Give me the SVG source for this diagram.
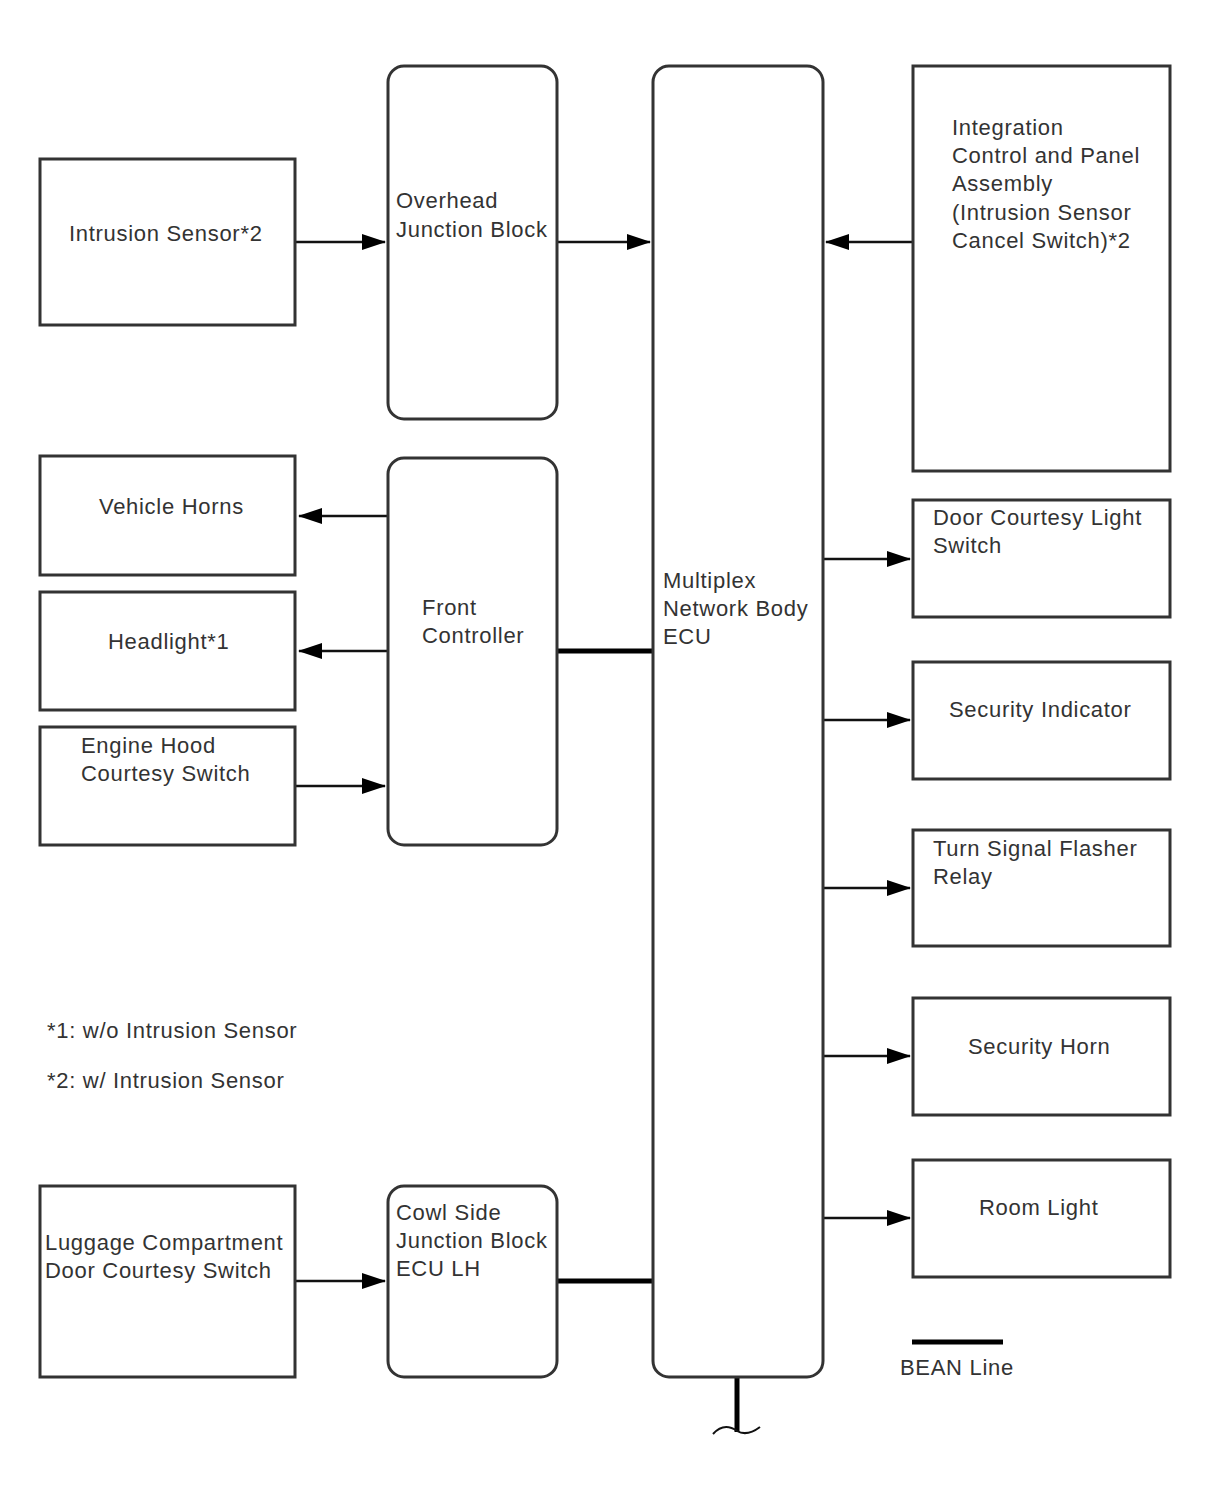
<svg xmlns="http://www.w3.org/2000/svg" width="1210" height="1498" viewBox="0 0 1210 1498">
<style>
.b{fill:#fff;stroke:#333;stroke-width:3}
.t{font-family:"Liberation Sans",Arial,sans-serif;font-size:22px;letter-spacing:0.7px;fill:#333}
.c{stroke:#111;stroke-width:2.5;fill:none}
.bean{stroke:#000;stroke-width:5;fill:none}
</style>
<defs>
<marker id="ah" markerWidth="24" markerHeight="16" refX="23" refY="8" orient="auto" markerUnits="userSpaceOnUse" viewBox="0 0 24 16">
<path d="M0,0 L24,8 L0,16 Z" fill="#000"/>
</marker>
</defs>
<rect width="1210" height="1498" fill="#fff"/>
<g id="connectors">
<line class="c" x1="295" y1="242" x2="385" y2="242" marker-end="url(#ah)"/>
<line class="c" x1="557" y1="242" x2="650" y2="242" marker-end="url(#ah)"/>
<line class="c" x1="913" y1="242" x2="826" y2="242" marker-end="url(#ah)"/>
<line class="c" x1="388" y1="516" x2="299" y2="516" marker-end="url(#ah)"/>
<line class="c" x1="388" y1="651" x2="299" y2="651" marker-end="url(#ah)"/>
<line class="c" x1="295" y1="786" x2="385" y2="786" marker-end="url(#ah)"/>
<line class="bean" x1="557" y1="651" x2="653" y2="651"/>
<line class="c" x1="823" y1="559" x2="910" y2="559" marker-end="url(#ah)"/>
<line class="c" x1="823" y1="720" x2="910" y2="720" marker-end="url(#ah)"/>
<line class="c" x1="823" y1="888" x2="910" y2="888" marker-end="url(#ah)"/>
<line class="c" x1="823" y1="1056" x2="910" y2="1056" marker-end="url(#ah)"/>
<line class="c" x1="823" y1="1218" x2="910" y2="1218" marker-end="url(#ah)"/>
<line class="c" x1="295" y1="1281" x2="385" y2="1281" marker-end="url(#ah)"/>
<line class="bean" x1="557" y1="1281" x2="653" y2="1281"/>
<line class="bean" x1="737" y1="1377" x2="737" y2="1432"/>
<path d="M713,1434 C722,1424 730,1426 737,1431 C744,1435 752,1433 760,1427" fill="none" stroke="#111" stroke-width="2"/>
</g>
<g id="intrusion-sensor"><rect class="b" x="40" y="159" width="255" height="166"/><text class="t" x="69" y="241">Intrusion Sensor*2</text></g>
<g id="overhead-jb"><rect class="b" x="388" y="66" width="169" height="353" rx="16"/><text class="t" x="396" y="208">Overhead</text><text class="t" x="396" y="237">Junction Block</text></g>
<g id="multiplex-ecu"><rect class="b" x="653" y="66" width="170" height="1311" rx="16"/><text class="t" x="663" y="588">Multiplex</text><text class="t" x="663" y="616">Network Body</text><text class="t" x="663" y="644">ECU</text></g>
<g id="integration-panel"><rect class="b" x="913" y="66" width="257" height="405"/><text class="t" x="952" y="135">Integration</text><text class="t" x="952" y="163">Control and Panel</text><text class="t" x="952" y="191">Assembly</text><text class="t" x="952" y="220">(Intrusion Sensor</text><text class="t" x="952" y="248">Cancel Switch)*2</text></g>
<g id="vehicle-horns"><rect class="b" x="40" y="456" width="255" height="119"/><text class="t" x="99" y="514">Vehicle Horns</text></g>
<g id="headlight"><rect class="b" x="40" y="592" width="255" height="118"/><text class="t" x="108" y="649">Headlight*1</text></g>
<g id="engine-hood"><rect class="b" x="40" y="727" width="255" height="118"/><text class="t" x="81" y="753">Engine Hood</text><text class="t" x="81" y="781">Courtesy Switch</text></g>
<g id="front-controller"><rect class="b" x="388" y="458" width="169" height="387" rx="16"/><text class="t" x="422" y="615">Front</text><text class="t" x="422" y="643">Controller</text></g>
<g id="door-courtesy"><rect class="b" x="913" y="500" width="257" height="117"/><text class="t" x="933" y="525">Door Courtesy Light</text><text class="t" x="933" y="553">Switch</text></g>
<g id="security-indicator"><rect class="b" x="913" y="662" width="257" height="117"/><text class="t" x="949" y="717">Security Indicator</text></g>
<g id="turn-signal"><rect class="b" x="913" y="830" width="257" height="116"/><text class="t" x="933" y="856">Turn Signal Flasher</text><text class="t" x="933" y="884">Relay</text></g>
<g id="security-horn"><rect class="b" x="913" y="998" width="257" height="117"/><text class="t" x="968" y="1054">Security Horn</text></g>
<g id="room-light"><rect class="b" x="913" y="1160" width="257" height="117"/><text class="t" x="979" y="1215">Room Light</text></g>
<g id="luggage"><rect class="b" x="40" y="1186" width="255" height="191"/><text class="t" x="45" y="1250">Luggage Compartment</text><text class="t" x="45" y="1278">Door Courtesy Switch</text></g>
<g id="cowl-side"><rect class="b" x="388" y="1186" width="169" height="191" rx="16"/><text class="t" x="396" y="1220">Cowl Side</text><text class="t" x="396" y="1248">Junction Block</text><text class="t" x="396" y="1276">ECU LH</text></g>
<g id="notes"><text class="t" x="47" y="1038">*1: w/o Intrusion Sensor</text><text class="t" x="47" y="1088">*2: w/ Intrusion Sensor</text></g>
<g id="legend"><line class="bean" x1="912" y1="1342" x2="1003" y2="1342"/><text class="t" x="900" y="1375">BEAN Line</text></g>
</svg>
